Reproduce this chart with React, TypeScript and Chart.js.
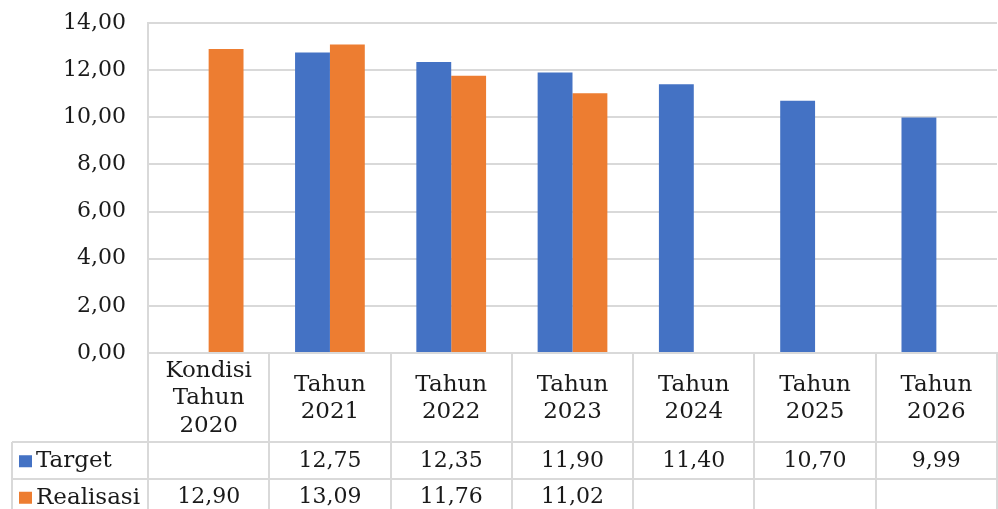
import React, { useEffect, useRef } from "react";
import { Chart, registerables } from "chart.js";

Chart.register(...registerables);

const categories: string[][] = [
  ["Kondisi", "Tahun", "2020"],
  ["Tahun", "2021"],
  ["Tahun", "2022"],
  ["Tahun", "2023"],
  ["Tahun", "2024"],
  ["Tahun", "2025"],
  ["Tahun", "2026"],
];
const targetValues: (number | null)[] = [null, 12.75, 12.35, 11.9, 11.4, 10.7, 9.99];
const realisasiValues: (number | null)[] = [12.9, 13.09, 11.76, 11.02, null, null, null];
const seriesNames = ["Target", "Realisasi"];
const seriesColors = ["#4472C4", "#ED7D31"];
const yMin = 0;
const yMax = 14;
const yStep = 2;

const FONT = "'DejaVu Serif', 'Liberation Serif', serif";
const TEXT = "#1a1a1a";
const GRID = "#d9d9d9";

const fmt = (v: number | null) => (v == null ? "" : v.toFixed(2).replace(".", ","));

const tablePlugin = {
  id: "dataTable",
  afterDraw(chart: any) {
    const ctx = chart.ctx as CanvasRenderingContext2D;
    const area = chart.chartArea;
    const n = categories.length;
    const colW = (area.right - area.left) / n;
    const headerTop = area.bottom;
    const headerBottom = headerTop + 89;
    const rowH = 36.5;
    const tableBottom = chart.height + 5;
    const legendLeft = 12;
    ctx.save();
    ctx.strokeStyle = GRID;
    ctx.lineWidth = 2;
    ctx.beginPath();
    for (let i = 0; i <= n; i++) {
      const x = Math.round(area.left + i * colW);
      ctx.moveTo(x, headerTop);
      ctx.lineTo(x, tableBottom);
    }
    ctx.moveTo(legendLeft, headerBottom);
    ctx.lineTo(legendLeft, tableBottom);
    for (let r = 0; r <= 2; r++) {
      const y = Math.round(headerBottom + r * rowH);
      ctx.moveTo(legendLeft, y);
      ctx.lineTo(area.right, y);
    }
    ctx.stroke();

    ctx.fillStyle = TEXT;
    ctx.textAlign = "center";
    ctx.textBaseline = "middle";
    ctx.font = `23px ${FONT}`;
    const lineH = 27.5;
    const headerMid = (headerTop + headerBottom) / 2 + 1;
    categories.forEach((lines, i) => {
      const cx = area.left + (i + 0.5) * colW;
      const start = headerMid - ((lines.length - 1) * lineH) / 2;
      lines.forEach((t, k) => ctx.fillText(t, cx, start + k * lineH));
    });
    const rows = [targetValues, realisasiValues];
    rows.forEach((vals, r) => {
      const cy = headerBottom + r * rowH + rowH / 2 + 1;
      ctx.font = `22px ${FONT}`;
      vals.forEach((v, i) => {
        const cx = area.left + (i + 0.5) * colW;
        ctx.fillText(fmt(v), cx, cy);
      });
      ctx.fillStyle = seriesColors[r];
      ctx.fillRect(19, cy - 6, 13, 12);
      ctx.fillStyle = TEXT;
      ctx.textAlign = "left";
      ctx.font = `23px ${FONT}`;
      ctx.fillText(seriesNames[r], 36, cy);
      ctx.textAlign = "center";
    });
    ctx.restore();
  },
};

export default function App() {
  const ref = useRef<HTMLCanvasElement>(null);
  useEffect(() => {
    document.body.style.margin = "0";
    const chart = new Chart(ref.current!, {
      type: "bar",
      data: {
        labels: categories.map((c) => c.join(" ")),
        datasets: [
          {
            label: seriesNames[0],
            data: targetValues,
            backgroundColor: seriesColors[0],
            categoryPercentage: 0.575,
            barPercentage: 1,
          },
          {
            label: seriesNames[1],
            data: realisasiValues,
            backgroundColor: seriesColors[1],
            categoryPercentage: 0.575,
            barPercentage: 1,
          },
        ],
      },
      options: {
        animation: false,
        responsive: false,
        layout: { padding: { left: 0, right: 1, top: 23, bottom: 156 } },
        plugins: { legend: { display: false }, tooltip: { enabled: false } },
        scales: {
          x: {
            ticks: { display: false },
            grid: { display: false },
            border: { display: true, color: GRID, width: 2 },
            afterFit: (s: any) => {
              s.height = 0;
              s.paddingLeft = 0;
              s.paddingRight = 0;
            },
          },
          y: {
            min: yMin,
            max: yMax,
            ticks: {
              stepSize: yStep,
              padding: 22,
              color: TEXT,
              font: { family: FONT, size: 22 },
              callback: (v: any) => Number(v).toFixed(2).replace(".", ","),
            },
            grid: { color: GRID, lineWidth: 2, drawTicks: false },
            border: { display: true, color: GRID, width: 2 },
            afterFit: (s: any) => {
              s.width = 148;
              s.paddingTop = 0;
              s.paddingBottom = 0;
            },
          },
        },
      },
      plugins: [tablePlugin],
    });
    return () => chart.destroy();
  }, []);
  return (
    <div style={{ width: 998, height: 509, background: "#fff" }}>
      <canvas ref={ref} width={998} height={509} style={{ display: "block" }} />
    </div>
  );
}
